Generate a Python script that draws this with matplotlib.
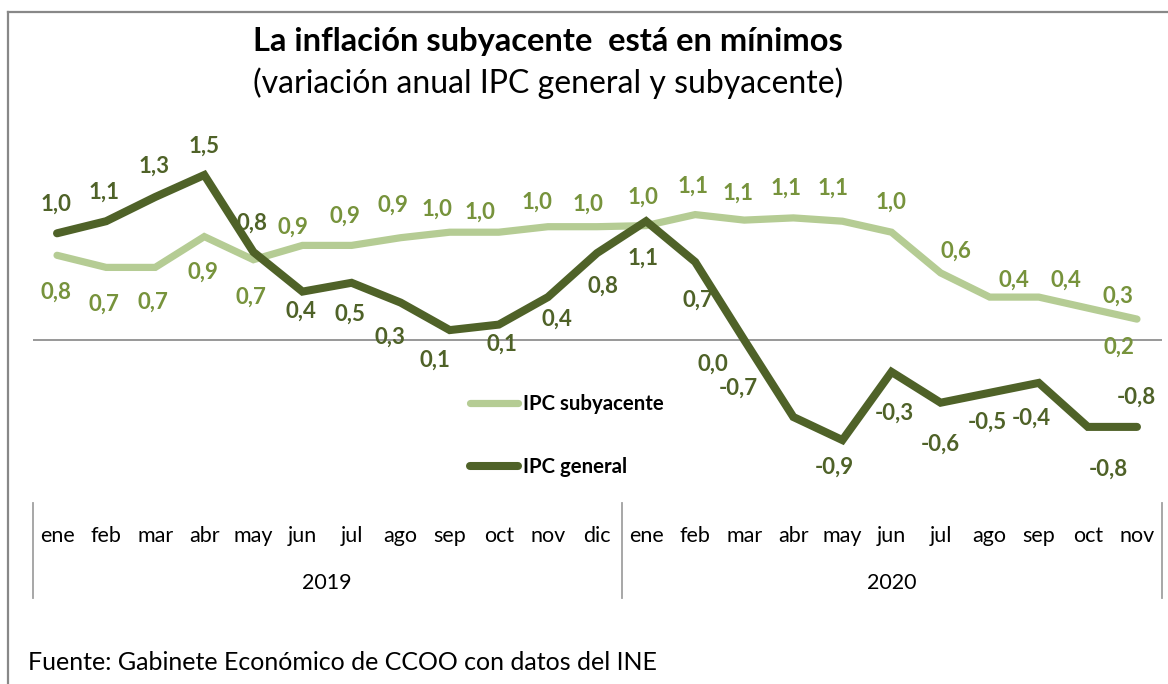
import matplotlib
matplotlib.use("Agg")
import matplotlib.pyplot as plt
from matplotlib.lines import Line2D
import matplotlib.transforms as mtrans

plt.rcParams['font.family'] = ['Lato', 'DejaVu Sans']

# ---------------- data ----------------
months = ["ene", "feb", "mar", "abr", "may", "jun", "jul", "ago", "sep", "oct", "nov", "dic",
          "ene", "feb", "mar", "abr", "may", "jun", "jul", "ago", "sep", "oct", "nov"]
years = ["2019", "2020"]
year_counts = [12, 11]

ipc_general = [0.97, 1.08, 1.30, 1.50, 0.80, 0.44, 0.52, 0.34, 0.09, 0.14, 0.39, 0.79,
               1.08, 0.71, 0.00, -0.70, -0.91, -0.29, -0.57, -0.48, -0.39, -0.79, -0.79]
ipc_subyacente = [0.77, 0.66, 0.66, 0.94, 0.73, 0.86, 0.86, 0.93, 0.98, 0.98, 1.03, 1.03,
                  1.04, 1.14, 1.09, 1.11, 1.08, 0.98, 0.61, 0.39, 0.39, 0.29, 0.19]

# label offsets (pixels, x right / y down) from each point
off_gen = [(-1, -29), (-2, -29), (-1, -31), (0, -29), (-1, -29), (-2, 20), (-2, 31), (-11, 35),
           (-15, 30), (3, 20), (9, 22), (6, 33), (-3, 37), (3, 38), (-31, 24), (-55, -29),
           (-8, 27), (3, 41), (0, 42), (-2, 29), (-7, 35), (21, 42), (-1, -30)]
off_sub = [(-1, 37), (-2, 37), (-2, 35), (-1, 36), (-2, 38), (-10, -18), (-7, -29), (-8, -32),
           (-13, -23), (-19, -20), (-11, -24), (-9, -22), (-3, -28), (-2, -28), (-6, -27),
           (-7, -30), (-9, -33), (-1, -30), (15, -22), (24, -17), (27, -17), (30, -12), (-18, 28)]

DARK = "#4F6228"
LIGHT_LINE = "#B5CC94"
LIGHT_TXT = "#77933C"
GRAY = "#888888"

W, H = 1168, 684
fig = plt.figure(figsize=(W / 100, H / 100), dpi=100)

def fx(px):
    return px / W

def fy(py):
    return 1 - py / H

# axes: x from -0.5..22.5 maps to 32.5..1161.5 px; y 0 at 340 px, 110 px per unit
ax_top, ax_bot = 130, 500
ax = fig.add_axes([fx(32.5), fy(ax_bot), (1161.5 - 32.5) / W, (ax_bot - ax_top) / H])
ax.set_xlim(-0.5, len(months) - 0.5)
ax.set_ylim(-(ax_bot - 340) / 110, (340 - ax_top) / 110)
ax.axis("off")

x = list(range(len(months)))
ax.axhline(0, color="#868686", lw=1.2, zorder=1)
ax.plot(x, ipc_subyacente, color=LIGHT_LINE, lw=5.2, solid_capstyle="round",
        solid_joinstyle="miter", zorder=2)
ax.plot(x, ipc_general, color=DARK, lw=5.8, solid_capstyle="round",
        solid_joinstyle="miter", zorder=3)

def fmt(v):
    s = f"{v:.1f}"
    if s == "-0.0":
        s = "0.0"
    return s.replace(".", ",")

LBL = 16
for xi, v, (dx, dy) in zip(x, ipc_subyacente, off_sub):
    ax.annotate(fmt(v), (xi, v), xytext=(dx * 0.72, -dy * 0.72), textcoords="offset points",
                ha="center", va="center", fontsize=LBL, fontweight="bold", color=LIGHT_TXT,
                zorder=4)
for xi, v, (dx, dy) in zip(x, ipc_general, off_gen):
    ax.annotate(fmt(v), (xi, v), xytext=(dx * 0.72, -dy * 0.72), textcoords="offset points",
                ha="center", va="center", fontsize=LBL, fontweight="bold", color=DARK,
                zorder=4)

# category axis (months + years) below
trans = mtrans.blended_transform_factory(ax.transData, fig.transFigure)
for xi, m in zip(x, months):
    fig.text(xi, fy(536), m, transform=trans, ha="center", va="center", fontsize=15.5,
             color="#000000")
start = 0
seps = [-0.5]
for yr, n in zip(years, year_counts):
    centre = start + (n - 1) / 2
    fig.text(centre, fy(583), yr, transform=trans, ha="center", va="center", fontsize=15.5,
             color="#000000")
    start += n
    seps.append(start - 0.5)
for s in seps:
    fig.add_artist(Line2D([s, s], [fy(503), fy(598)], transform=trans, color="#A0A0A0", lw=1.3))

# legend
fig.add_artist(Line2D([fx(470), fx(518)], [fy(403), fy(403)], color=LIGHT_LINE, lw=5.2,
                      solid_capstyle="round"))
fig.add_artist(Line2D([fx(470), fx(518)], [fy(466), fy(466)], color=DARK, lw=5.8,
                      solid_capstyle="round"))
fig.text(fx(523), fy(404), "IPC subyacente", ha="left", va="center", fontsize=14.7,
         fontweight="bold", color="#000000")
fig.text(fx(523), fy(467), "IPC general", ha="left", va="center", fontsize=14.7,
         fontweight="bold", color="#000000")

# titles
fig.text(fx(548), fy(42), "La inflación subyacente  está en mínimos", ha="center", va="center",
         fontsize=23.5, fontweight="bold", color="#000000")
fig.text(fx(548), fy(83), "(variación anual IPC general y subyacente)", ha="center",
         va="center", fontsize=23, color="#000000")

# footer
fig.text(fx(28), fy(662), "Fuente: Gabinete Económico de CCOO con datos del INE", ha="left",
         va="center", fontsize=18, color="#000000")

# outer border (top & left visible)
fig.add_artist(Line2D([fx(8), 1.0], [fy(12), fy(12)], color=GRAY, lw=1.6))
fig.add_artist(Line2D([fx(8), fx(8)], [fy(12), 0.0], color=GRAY, lw=1.6))

fig.savefig("out.png", dpi=100, facecolor="white")
